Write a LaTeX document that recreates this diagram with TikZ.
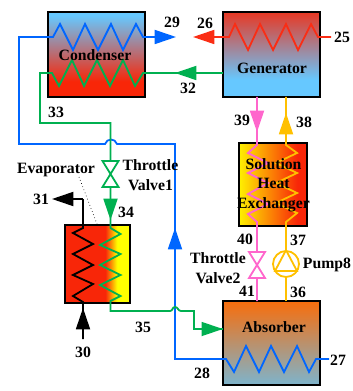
\documentclass[tikz,border=0pt]{standalone}
\usepackage{fontspec}
\setmainfont{Liberation Serif}
\usetikzlibrary{shadings, arrows.meta, positioning}
\definecolor{linkblue}{RGB}{0,102,255}
\definecolor{linkgreen}{RGB}{0,176,80}
\definecolor{linkred}{RGB}{250,45,20}
\definecolor{linkorange}{RGB}{255,192,0}
\definecolor{linkpink}{RGB}{255,102,204}
\definecolor{hotred}{RGB}{248,38,8}
\definecolor{coldblue}{RGB}{102,200,255}
\definecolor{warmorange}{RGB}{255,105,0}
\definecolor{paleblue}{RGB}{108,190,232}
\pgfdeclareverticalshading{condshade}{100bp}{color(0bp)=(hotred); color(34bp)=(hotred); color(73bp)=(coldblue); color(100bp)=(coldblue)}
\pgfdeclareverticalshading{genshade}{100bp}{color(0bp)=(coldblue); color(35bp)=(coldblue); color(80bp)=(hotred); color(100bp)=(hotred)}
\pgfdeclareverticalshading{absshade}{100bp}{color(0bp)=(paleblue); color(18bp)=(paleblue); color(78bp)=(warmorange); color(100bp)=(warmorange)}
\pgfdeclarehorizontalshading{sheshade}{100bp}{color(0bp)=(yellow); color(22bp)=(yellow); color(68bp)=(hotred); color(100bp)=(hotred)}
\pgfdeclarehorizontalshading{evapshade}{100bp}{color(0bp)=(hotred); color(56bp)=(hotred); color(65bp)=(yellow); color(100bp)=(yellow)}
\tikzstyle{unit} = [
  rectangle,
  draw=black,
  line width=1.3pt,
  inner sep=0,
  outer sep=0,
  shade
]
\tikzstyle{txt} = [
  font=\fontsize{11.8}{14.7}\selectfont\bfseries,
  align=center,
  inner sep=0,
  text=black
]
\tikzstyle{link} = [
  line width=1.35pt,
  line join=miter
]
\tikzstyle{bigtip} = [
  -{Triangle[length=16pt,width=10.5pt]}
]
\begin{document}
\begin{tikzpicture}[x=0.75pt,y=-0.75pt]
      \useasboundingbox (0,0) rectangle (352,391);

      \node [unit, shading=condshade, minimum width=73pt, minimum height=63.5pt] (condenser) at (96.5,54.5) {};
      \node [unit, shading=genshade, minimum width=73pt, minimum height=63.5pt] (generator) at (271.5,54.5) {};
      \node [unit, shading=sheshade, minimum width=51pt, minimum height=62pt] (she) at (273,184.5) {};
      \node [unit, shading=evapshade, minimum width=49pt, minimum height=58.5pt] (evaporator) at (97.5,264) {};
      \node [unit, shading=absshade, minimum width=73pt, minimum height=63pt] (absorber) at (271.5,343) {};

      \coordinate (p25) at (331,37);
      \coordinate (p26) at (193,37);
      \coordinate (p27) at (329,359);
      \coordinate (p29) at (176,37);
      \coordinate (p30) at (83,339);
      \coordinate (p31) at (52,199);
      \coordinate (valveone) at (110.5,174);
      \coordinate (valvetwo) at (257,265);
      \node [circle, draw=linkorange, line width=1.35pt, fill=white, minimum size=19.5pt, inner sep=0] (pump) at (286,264) {};

      % hot water loop
      \draw [link, color=linkred, bigtip] (p25) -- (318,37) -- (311,24) -- (298,50) -- (286,24) -- (273,50) -- (260,24) -- (248,50) -- (235,24) -- (229,37) -- (p26);

      % cooling water loop
      \draw [link, color=linkblue, bigtip] (p27) -- (316,359) -- (309,372) -- (297,346) -- (284,372) -- (271,346) -- (259,372) -- (246,346) -- (234,372) -- (226,359) -- (175,359) -- (175,144) -- (117,144) .. controls (115,138) and (107,138) .. (105,144) -- (19,144) -- (19,37) -- (53,37) -- (60,24) -- (73,50) -- (85,24) -- (98,50) -- (111,24) -- (123,50) -- (136,24) -- (143,37) -- (p29);
      \draw [link, color=linkblue, bigtip] (175,247) -- (175,228);

      % refrigerant
      \draw [link, color=linkgreen] (generator.west |- 0,73) -- (143,73) -- (135,86) -- (123,60) -- (110,86) -- (97,60) -- (84,86) -- (72,60) -- (59,86) -- (52,73) -- (40,73) -- (40,123) -- (110.5,123) -- (110.5,228) -- (120.5,234) -- (100,245) -- (120.5,254) -- (100,265) -- (120.5,275) -- (100,285) -- (120.5,296) -- (110.5,301) -- (110.5,311) -- (170,311) .. controls (173,311) and (172,307) .. (175,307) .. controls (178,307) and (178,311) .. (181,311) -- (194,311) -- (194,329) -- (absorber.west |- 0,329);
      \draw [link, color=linkgreen, bigtip] (192,73) -- (175,73);
      \draw [link, color=linkgreen, bigtip] (110.5,195) -- (110.5,220);
      \draw [link, color=linkgreen, bigtip] (201,329) -- (absorber.west |- 0,329);
      \draw [link, draw=linkgreen, fill=white] (valveone) ++(-8,-13) -- ++(16,0) -- ++(-16,26) -- ++(16,0) -- cycle;

      % chilled water
      \draw [link, color=black] (p30) -- (83,302) -- (73,296) -- (93,284) -- (73,275) -- (93,265) -- (73,254) -- (93,244) -- (73,233) -- (83,228) -- (83,199);
      \draw [link, color=black, bigtip] (83,199) -- (p31);
      \draw [link, color=black, bigtip] (83,332) -- (83,308);
      \draw [dotted, line width=0.5pt] (79,177) -- (97,224);

      % strong solution
      \draw [link, color=linkpink] (generator.south -| 257,0) -- (257,145) -- (248,153) -- (268,163) -- (248,173) -- (268,183) -- (248,194) -- (268,204) -- (248,214) -- (257,222) -- (absorber.north -| 257,0);
      \draw [link, color=linkpink, bigtip] (257,115) -- (257,132);
      \draw [link, draw=linkpink, fill=white] (valvetwo) ++(-8,-13) -- ++(16,0) -- ++(-16,26) -- ++(16,0) -- cycle;

      % weak solution
      \draw [link, color=linkorange] (absorber.north -| pump) -- (pump.south);
      \draw [link, color=linkorange] (pump.north) -- (286,222) -- (297,213) -- (276,203) -- (297,193) -- (276,183) -- (297,173) -- (276,163) -- (297,153) -- (286,145) -- (generator.south -| pump);
      \draw [link, color=linkorange, bigtip] (286,131) -- (286,113);
      \draw [link, color=linkorange] (pump.north) -- (275,271) -- (297,271) -- cycle;

      \node [txt] (condensertext) at (95,55) {Condenser};
      \node [txt] (generatortext) at (272,68) {Generator};
      \node [txt] (absorbertext) at (274,327) {Absorber};
      \node [txt] (shetext) at (273.5,185) {Solution\\Heat\\Exchanger};
      \node [txt] (evaporatortext) at (56,170) {Evaporator};
      \node [txt] (valveonetext) at (150.5,175) {Throttle\\Valve1};
      \node [txt] (valvetwotext) at (218,268) {Throttle\\Valve2};
      \node [txt] (pumptext) at (327,265) {Pump8};
      \node [txt] (t25) at (342,37) {25};
      \node [txt] (t26) at (205,23) {26};
      \node [txt] (t27) at (338,360) {27};
      \node [txt] (t28) at (202,373) {28};
      \node [txt] (t29) at (172,22) {29};
      \node [txt] (t30) at (83,352) {30};
      \node [txt] (t31) at (41,199) {31};
      \node [txt] (t32) at (188,88) {32};
      \node [txt] (t33) at (56,112) {33};
      \node [txt] (t34) at (126,212) {34};
      \node [txt] (t35) at (143,327) {35};
      \node [txt] (t36) at (298,292) {36};
      \node [txt] (t37) at (298,240) {37};
      \node [txt] (t38) at (304,122) {38};
      \node [txt] (t39) at (242,120) {39};
      \node [txt] (t40) at (245,239) {40};
      \node [txt] (t41) at (247,291) {41};

    \end{tikzpicture}
\end{document}
